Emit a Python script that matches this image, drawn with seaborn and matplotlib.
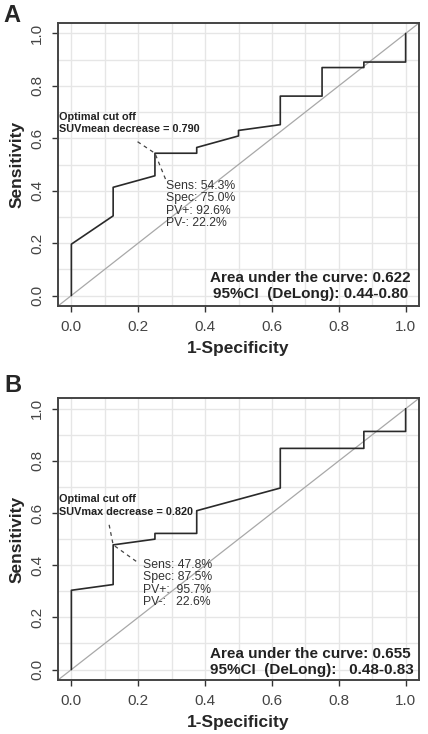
import numpy as np
import pandas as pd
import matplotlib
matplotlib.use('Agg')
import matplotlib.pyplot as plt
import seaborn as sns
from matplotlib.ticker import MultipleLocator

# ROC curve A (SUVmean decrease)
fpr_a = [0, 0, 0.125, 0.125, 0.25, 0.25, 0.375, 0.375, 0.5, 0.5, 0.625, 0.625, 0.75, 0.75, 0.875, 0.875, 1.0, 1.0]
sens_a = [0, 0.196, 0.304, 0.413, 0.457, 0.543, 0.543, 0.565, 0.609, 0.630, 0.652, 0.761, 0.761, 0.870, 0.870, 0.891, 0.891, 1.0]
# ROC curve B (SUVmax decrease)
fpr_b = [0, 0, 0.125, 0.125, 0.25, 0.25, 0.375, 0.375, 0.625, 0.625, 0.875, 0.875, 1.0, 1.0]
sens_b = [0, 0.304, 0.326, 0.478, 0.500, 0.522, 0.522, 0.609, 0.696, 0.848, 0.848, 0.913, 0.913, 1.0]

thr_a = (0.25, 0.543)
thr_b = (0.125, 0.478)
cut_a = 'Optimal cut off\nSUVmean decrease = 0.790'
cut_b = 'Optimal cut off\nSUVmax decrease = 0.820'
stats_a = 'Sens: 54.3%\nSpec: 75.0%\nPV+: 92.6%\nPV-: 22.2%'
stats_b = 'Sens: 47.8%\nSpec: 87.5%\nPV+:  95.7%\nPV-:   22.6%'
auc_a = 'Area under the curve: 0.622\n95%CI  (DeLong): 0.44-0.80'
auc_b = 'Area under the curve: 0.655\n95%CI  (DeLong):   0.48-0.83'
ticks = [0.0, 0.2, 0.4, 0.6, 0.8, 1.0]

sns.set_style("whitegrid")
plt.rcParams['font.family'] = ['Liberation Sans', 'DejaVu Sans']

fig = plt.figure(figsize=(4.28, 7.34), dpi=100)
ax_a = fig.add_axes([58/428, 1-306/734, 361/428, 283/734])
ax_b = fig.add_axes([58/428, 1-680/734, 361/428, 281.7/734])


def draw_panel(ax, fpr, sens, thr, cut_txt, cut_xy, dash_top, dash_bot,
               st_txt, st_xy, auc_txt, auc_xy, auc_ha):
    df = pd.DataFrame({'fpr': fpr, 'sens': sens})
    ax.set_xlim(-0.04, 1.04)
    ax.set_ylim(-0.04, 1.04)
    ax.xaxis.set_major_locator(MultipleLocator(0.2))
    ax.yaxis.set_major_locator(MultipleLocator(0.2))
    ax.xaxis.set_minor_locator(MultipleLocator(0.1))
    ax.yaxis.set_minor_locator(MultipleLocator(0.1))
    ax.grid(which='both', color='#e6e6e6', linewidth=1.0)
    ax.set_axisbelow(True)
    ax.axline((0, 0), (1, 1), color='#a8a8a8', linewidth=0.9, zorder=2)
    sns.lineplot(data=df, x='fpr', y='sens', sort=False, estimator=None,
                 color='#2a2a2a', linewidth=1.2, ax=ax, zorder=3)
    ax.plot([dash_top[0], thr[0], dash_bot[0]], [dash_top[1], thr[1], dash_bot[1]],
            linestyle=(0, (3, 3)), color='#444444', linewidth=0.9, zorder=3)
    ax.text(cut_xy[0], cut_xy[1], cut_txt, fontsize=7.8, fontweight='bold', color='#222222',
            ha='left', va='center', linespacing=1.3, zorder=4)
    ax.text(st_xy[0], st_xy[1], st_txt, fontsize=8.8, color='#333333',
            ha='left', va='center', linespacing=1.05, zorder=4)
    ax.text(auc_xy[0], auc_xy[1], auc_txt, fontsize=11, fontweight='bold', color='#222222',
            ha=auc_ha, va='center', multialignment=auc_ha, linespacing=1.2, zorder=4)
    ax.set_xticks(ticks)
    ax.set_yticks(ticks)
    ax.set_xticklabels([f'{t:.1f}' for t in ticks])
    ax.set_yticklabels([f'{t:.1f}' for t in ticks], rotation=90, va='center')
    ax.tick_params(axis='both', which='major', direction='out', length=4, width=1,
                   color='#333333', labelsize=11, labelcolor='#444444', pad=6,
                   left=True, bottom=True)
    ax.tick_params(which='minor', length=0)
    ax.set_xlabel('1-Specificity', fontsize=12.5, fontweight='bold', labelpad=5)
    ax.set_ylabel('Sensitivity', fontsize=12.5, fontweight='bold', labelpad=4)
    for s in ax.spines.values():
        s.set_color('#444444')
        s.set_linewidth(1.4)
        s.set_visible(True)


draw_panel(ax_a, fpr_a, sens_a, thr_a, cut_a, (-0.037, 0.659), (0.198, 0.587), (0.283, 0.44),
           stats_a, (0.284, 0.347), auc_a, (0.716, 0.035), 'center')
draw_panel(ax_b, fpr_b, sens_b, thr_b, cut_b, (-0.037, 0.629), (0.113, 0.555), (0.195, 0.414),
           stats_b, (0.215, 0.33), auc_b, (0.414, 0.029), 'left')

fig.text(3/428, 1-15/734, 'A', fontsize=17, fontweight='bold', ha='left', va='center')
fig.text(4/428, 1-386/734, 'B', fontsize=17, fontweight='bold', ha='left', va='center')

plt.savefig('out.png', dpi=100)
